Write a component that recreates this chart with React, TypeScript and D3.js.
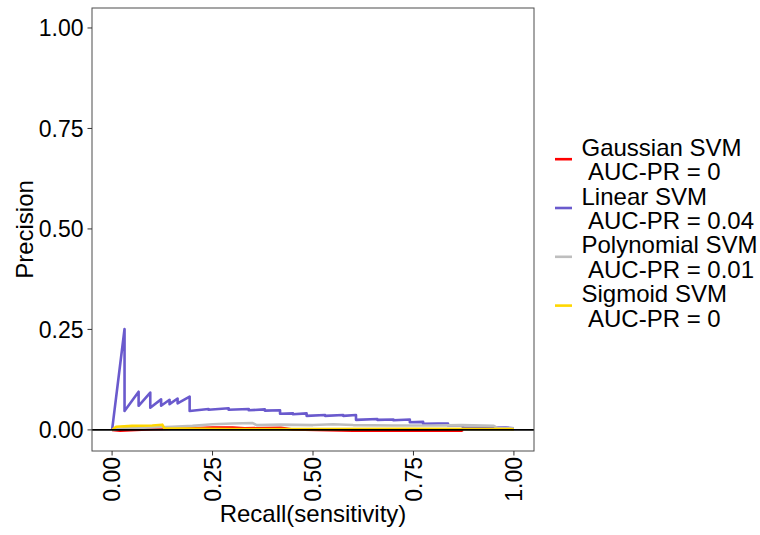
import React from "react";
import * as d3 from "d3";

type Pt = [number, number];

const seriesNames = ["Gaussian SVM", "Linear SVM", "Polynomial SVM", "Sigmoid SVM"];
const aucLabels = ["AUC-PR = 0", "AUC-PR = 0.04", "AUC-PR = 0.01", "AUC-PR = 0"];
const seriesColors = ["#FF0000", "#6A5ACD", "#BEBEBE", "#FFD700"];

const gaussian: Pt[] = [
  [0, 0], [0.02, -0.002], [0.1, 0.002], [0.2, 0.004], [0.25, 0.006], [0.3, 0.006],
  [0.33, 0.004], [0.42, 0.005], [0.45, 0.001], [0.6, -0.002], [0.87, -0.002], [0.873, 0],
];

const linear: Pt[] = [
  [0, 0], [0.031, 0.251], [0.031, 0.047], [0.066, 0.095], [0.066, 0.06], [0.095, 0.093],
  [0.095, 0.055], [0.122, 0.076], [0.122, 0.06], [0.143, 0.075], [0.143, 0.064], [0.163, 0.078],
  [0.163, 0.066], [0.193, 0.083], [0.193, 0.047], [0.24, 0.052],
  [0.24, 0.05], [0.29, 0.054], [0.29, 0.05], [0.34, 0.052], [0.34, 0.049], [0.38, 0.051],
  [0.38, 0.048], [0.418, 0.049], [0.418, 0.04], [0.45, 0.041], [0.45, 0.039], [0.484, 0.041],
  [0.484, 0.035], [0.53, 0.037], [0.53, 0.035], [0.575, 0.037], [0.575, 0.035], [0.607, 0.037],
  [0.607, 0.025], [0.66, 0.027], [0.66, 0.025], [0.7, 0.026], [0.7, 0.024], [0.741, 0.026],
  [0.741, 0.019], [0.774, 0.02], [0.774, 0.015], [0.81, 0.016], [0.836, 0.016], [0.836, 0.011],
  [0.873, 0.011], [0.873, 0.005], [0.93, 0.005], [0.98, 0.006], [1.0, 0.004],
];

const polynomial: Pt[] = [
  [0, 0], [0.03, 0.004], [0.1, 0.006], [0.15, 0.008], [0.2, 0.01], [0.25, 0.014], [0.3, 0.016],
  [0.35, 0.017], [0.36, 0.012], [0.42, 0.013], [0.5, 0.012], [0.55, 0.014], [0.6, 0.012],
  [0.7, 0.011], [0.8, 0.011], [0.87, 0.012], [0.95, 0.01], [0.96, 0.004], [1.0, 0.004],
];

const sigmoid: Pt[] = [
  [0, 0], [0.01, 0.008], [0.05, 0.01], [0.1, 0.011], [0.125, 0.013], [0.13, 0.004],
  [0.3, 0.002], [0.5, 0.002], [0.75, 0.003], [0.99, 0.002], [1.0, 0.001],
];

const allSeries: Pt[][] = [gaussian, linear, polynomial, sigmoid];
const tickValues = [0, 0.25, 0.5, 0.75, 1];
const tickLabels = ["0.00", "0.25", "0.50", "0.75", "1.00"];

const FONT = "'Liberation Sans', Arial, sans-serif";

export default function App() {
  const panel = { left: 92, right: 534, top: 8, bottom: 451 };
  const x = d3.scaleLinear().domain([-0.05, 1.05]).range([panel.left, panel.right]);
  const y = d3.scaleLinear().domain([-0.0525, 1.0497]).range([panel.bottom, panel.top]);
  const line = d3
    .line<Pt>()
    .x((d) => x(d[0]))
    .y((d) => y(d[1]));
  const lineGap = 24.4;

  return (
    <svg
      width={760}
      height={535}
      style={{ position: "absolute", left: 0, top: 0, background: "#fff" }}
      fontFamily={FONT}
    >
      <rect x={0} y={0} width={760} height={535} fill="#fff" />
      {allSeries.map((s, i) => (
        <path
          key={i}
          d={line(s) || ""}
          fill="none"
          stroke={seriesColors[i]}
          strokeWidth={2.6}
          strokeLinejoin="round"
        />
      ))}
      <line x1={panel.left} x2={panel.right} y1={y(0)} y2={y(0)} stroke="#000" strokeWidth={1.8} />
      <rect
        x={panel.left}
        y={panel.top}
        width={panel.right - panel.left}
        height={panel.bottom - panel.top}
        fill="none"
        stroke="#4d4d4d"
        strokeWidth={1}
      />
      {tickValues.map((v, i) => (
        <g key={"y" + i}>
          <line x1={panel.left - 4.5} x2={panel.left} y1={y(v)} y2={y(v)} stroke="#333" strokeWidth={1} />
          <text x={83.5} y={y(v)} dy="0.36em" textAnchor="end" fontSize={23} fill="#000">
            {tickLabels[i]}
          </text>
        </g>
      ))}
      {tickValues.map((v, i) => (
        <g key={"x" + i}>
          <line x1={x(v)} x2={x(v)} y1={panel.bottom} y2={panel.bottom + 4.5} stroke="#333" strokeWidth={1} />
          <text
            transform={`translate(${x(v)},${panel.bottom + 6}) rotate(-90)`}
            dy="0.36em"
            textAnchor="end"
            fontSize={23}
            fill="#000"
          >
            {tickLabels[i]}
          </text>
        </g>
      ))}
      <text x={(panel.left + panel.right) / 2} y={521.5} textAnchor="middle" fontSize={24} fill="#000">
        Recall(sensitivity)
      </text>
      <text
        transform={`translate(33,${(panel.top + panel.bottom) / 2}) rotate(-90)`}
        textAnchor="middle"
        fontSize={24}
        fill="#000"
      >
        Precision
      </text>
      {seriesNames.map((name, i) => {
        const base = 155.7 + i * 2 * lineGap;
        return (
          <g key={"l" + i}>
            <line x1={555} x2={572} y1={base + 3.5} y2={base + 3.5} stroke={seriesColors[i]} strokeWidth={2.6} />
            <text fontSize={24} fill="#000">
              <tspan x={581.5} y={base}>{name}</tspan>
              <tspan x={588} y={base + lineGap}>{aucLabels[i]}</tspan>
            </text>
          </g>
        );
      })}
    </svg>
  );
}
